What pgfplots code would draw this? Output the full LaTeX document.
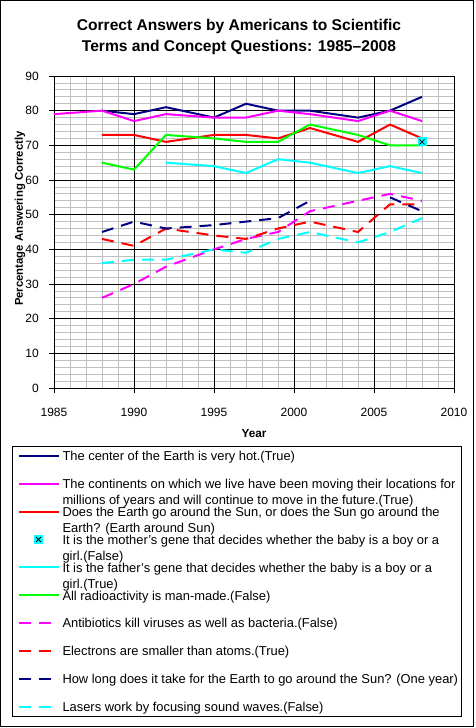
\documentclass[border=0pt]{standalone}
\usepackage{fontspec}
\setmainfont{Liberation Sans}
\usepackage{pgfplots}
\pgfplotsset{compat=1.18}
\definecolor{xnavy}{RGB}{0,0,128}
\definecolor{xmag}{RGB}{255,0,255}
\definecolor{xred}{RGB}{255,0,0}
\definecolor{xcyan}{RGB}{0,255,255}
\definecolor{xgreen}{RGB}{0,255,0}
\definecolor{xgrid}{RGB}{192,192,192}
\pgfdeclareplotmark{sqx}{%
  \pgfpathrectangle{\pgfqpoint{-\pgfplotmarksize}{-\pgfplotmarksize}}{\pgfqpoint{2\pgfplotmarksize}{2\pgfplotmarksize}}%
  \pgfusepathqfill
  \pgfsetstrokecolor{black}\pgfsetlinewidth{0.8pt}%
  \pgfpathmoveto{\pgfqpoint{-0.55\pgfplotmarksize}{-0.55\pgfplotmarksize}}%
  \pgfpathlineto{\pgfqpoint{0.55\pgfplotmarksize}{0.55\pgfplotmarksize}}%
  \pgfpathmoveto{\pgfqpoint{-0.55\pgfplotmarksize}{0.55\pgfplotmarksize}}%
  \pgfpathlineto{\pgfqpoint{0.55\pgfplotmarksize}{-0.55\pgfplotmarksize}}%
  \pgfusepathqstroke
}
\pgfplotsset{
  lineleg/.style={legend image code/.code={\path[draw=none,fill=none] (0pt,-1pt) rectangle (42pt,1pt); \draw[##1] (2pt,0pt) -- (42pt,0pt);}},
  markleg/.style={legend image code/.code={\path[draw=none,fill=none] (0pt,-1pt) rectangle (42pt,1pt); \draw[##1] plot coordinates {(22pt,0pt)};}},
}
\newcommand{\lt}[1]{\raisebox{0pt}[11pt][1.7pt]{\makebox[395pt][l]{#1}}}
\newcommand{\two}[2]{\vtop{\baselineskip=16pt\lineskiplimit=-30pt\hbox{#1}\hbox{#2}}}
\begin{document}
\begin{tikzpicture}
\useasboundingbox (-54pt,-340pt) rectangle (421pt,388pt);
\begin{axis}[
  scale only axis, width=400pt, height=312pt,
  xmin=1985, xmax=2010, ymin=0, ymax=90,
  xtick={1985,1990,...,2010}, ytick={0,10,...,90},
  minor x tick num=4, minor y tick num=4,
  grid=both,
  major grid style={black, line width=0.8pt},
  minor grid style={xgrid, line width=0.8pt},
  extra x ticks={1990,1995,2000,2005},
  extra y ticks={10,20,30,40,50,60,70,80},
  extra x tick labels={}, extra y tick labels={},
  extra tick style={grid=major, major grid style={black, line width=0.8pt}, major tick length=5pt},
  axis line style={black, line width=0.8pt},
  tick align=outside, tick pos=left,
  major tick length=5pt, minor tick length=0pt,
  major tick style={black, line width=0.8pt},
  /pgf/number format/assume math mode=true,
  /pgf/number format/1000 sep={},
  tick label style={font=\fontsize{12}{14}\selectfont, inner sep=0pt},
  xticklabel style={anchor=north, yshift=-15pt},
  yticklabel style={anchor=east, xshift=-10pt},
  xlabel={Year},
  ylabel={Percentage Answering Correctly},
  xlabel style={font=\bfseries\fontsize{11.8}{14}\selectfont, at={(axis description cs:0.5,-0.1587)}, anchor=base, inner sep=0pt},
  ylabel style={font=\bfseries\fontsize{11.3}{14}\selectfont, at={(axis description cs:-0.0775,0.543)}, anchor=base, inner sep=0pt},
  unbounded coords=jump,
  every axis plot/.append style={line width=2pt},
  legend cell align=left,
  lineleg,
  legend style={at={(axis description cs:-0.105,-0.1859)}, anchor=north west,
    draw=black, line width=1pt, inner xsep=4pt, inner ysep=3pt,
    row sep=15.4pt, column sep=3pt,
    nodes={inner sep=0pt},
    font=\fontsize{12.9}{16}\selectfont},
]
\addplot[xnavy] coordinates {(1988,80)(1990,79)(1992,81)(1995,78)(1997,82)(1999,80)(2001,80)(2004,78)(2006,80)(2008,84)};
\addlegendentry{\lt{The center of the Earth is very hot.(True)}}
\addplot[xmag] coordinates {(1985,79)(1988,80)(1990,77)(1992,79)(1995,78)(1997,78)(1999,80)(2001,79)(2004,77)(2006,80)(2008,77)};
\addlegendentry{\lt{\two{The continents on which we live have been moving their locations for}{millions of years and will continue to move in the future.(True)}}}
\addplot[xred] coordinates {(1988,73)(1990,73)(1992,71)(1995,73)(1997,73)(1999,72)(2001,75)(2004,71)(2006,76)(2008,72)};
\addlegendentry{\lt{\two{Does the Earth go around the Sun, or does the Sun go around the}{Earth? (Earth around Sun)}}}
\addplot[only marks, mark=sqx, mark size=4.5pt, color=xcyan, fill=xcyan, markleg] coordinates {(2008,71)};
\addlegendentry{\lt{\two{It is the mother's gene that decides whether the baby is a boy or a}{girl.(False)}}}
\addplot[xcyan] coordinates {(1992,65)(1995,64)(1997,62)(1999,66)(2001,65)(2004,62)(2006,64)(2008,62)};
\addlegendentry{\lt{\two{It is the father's gene that decides whether the baby is a boy or a}{girl.(True)}}}
\addplot[xgreen] coordinates {(1988,65)(1990,63)(1992,73)(1995,72)(1997,71)(1999,71)(2001,76)(2004,73)(2006,70)(2008,70)};
\addlegendentry{\lt{All radioactivity is man-made.(False)}}
\addplot[xmag, dash pattern=on 12pt off 8pt] coordinates {(1988,26)(1990,30)(1992,35)(1995,40)(1997,43)(1999,45)(2001,51)(2004,54)(2006,56)(2008,54)};
\addlegendentry{\lt{Antibiotics kill viruses as well as bacteria.(False)}}
\addplot[xred, dash pattern=on 12pt off 8pt] coordinates {(1988,43)(1990,41)(1992,46)(1995,44)(1997,43)(1999,46)(2001,48)(2004,45)(2006,53)(2008,53)};
\addlegendentry{\lt{Electrons are smaller than atoms.(True)}}
\addplot[xnavy, dash pattern=on 12pt off 8pt] coordinates {(1988,45)(1990,48)(1992,46)(1995,47)(1997,48)(1999,49)(2001,54)(2004,nan)(2006,55)(2008,51)};
\addlegendentry{\lt{How long does it take for the Earth to go around the Sun? (One year)}}
\addplot[xcyan, dash pattern=on 12pt off 8pt] coordinates {(1988,36)(1990,37)(1992,37)(1995,40)(1997,39)(1999,43)(2001,45)(2004,42)(2006,45)(2008,49)};
\addlegendentry{\lt{Lasers work by focusing sound waves.(False)}}
\addplot[only marks, mark=sqx, mark size=4.5pt, color=xcyan, fill=xcyan, forget plot] coordinates {(2008,71)};
\end{axis}
\draw[line width=1pt] (-53.5pt,-338.5pt) rectangle (419.5pt,387.5pt);
\node[anchor=base, inner sep=0pt, font=\bfseries\fontsize{15.6}{18}\selectfont] at (185pt,357.3pt) {Correct Answers by Americans to Scientific};
\node[anchor=base, inner sep=0pt, font=\bfseries\fontsize{15.6}{18}\selectfont] at (185pt,336.3pt) {Terms and Concept Questions: 1985–2008};
\end{tikzpicture}
\end{document}
